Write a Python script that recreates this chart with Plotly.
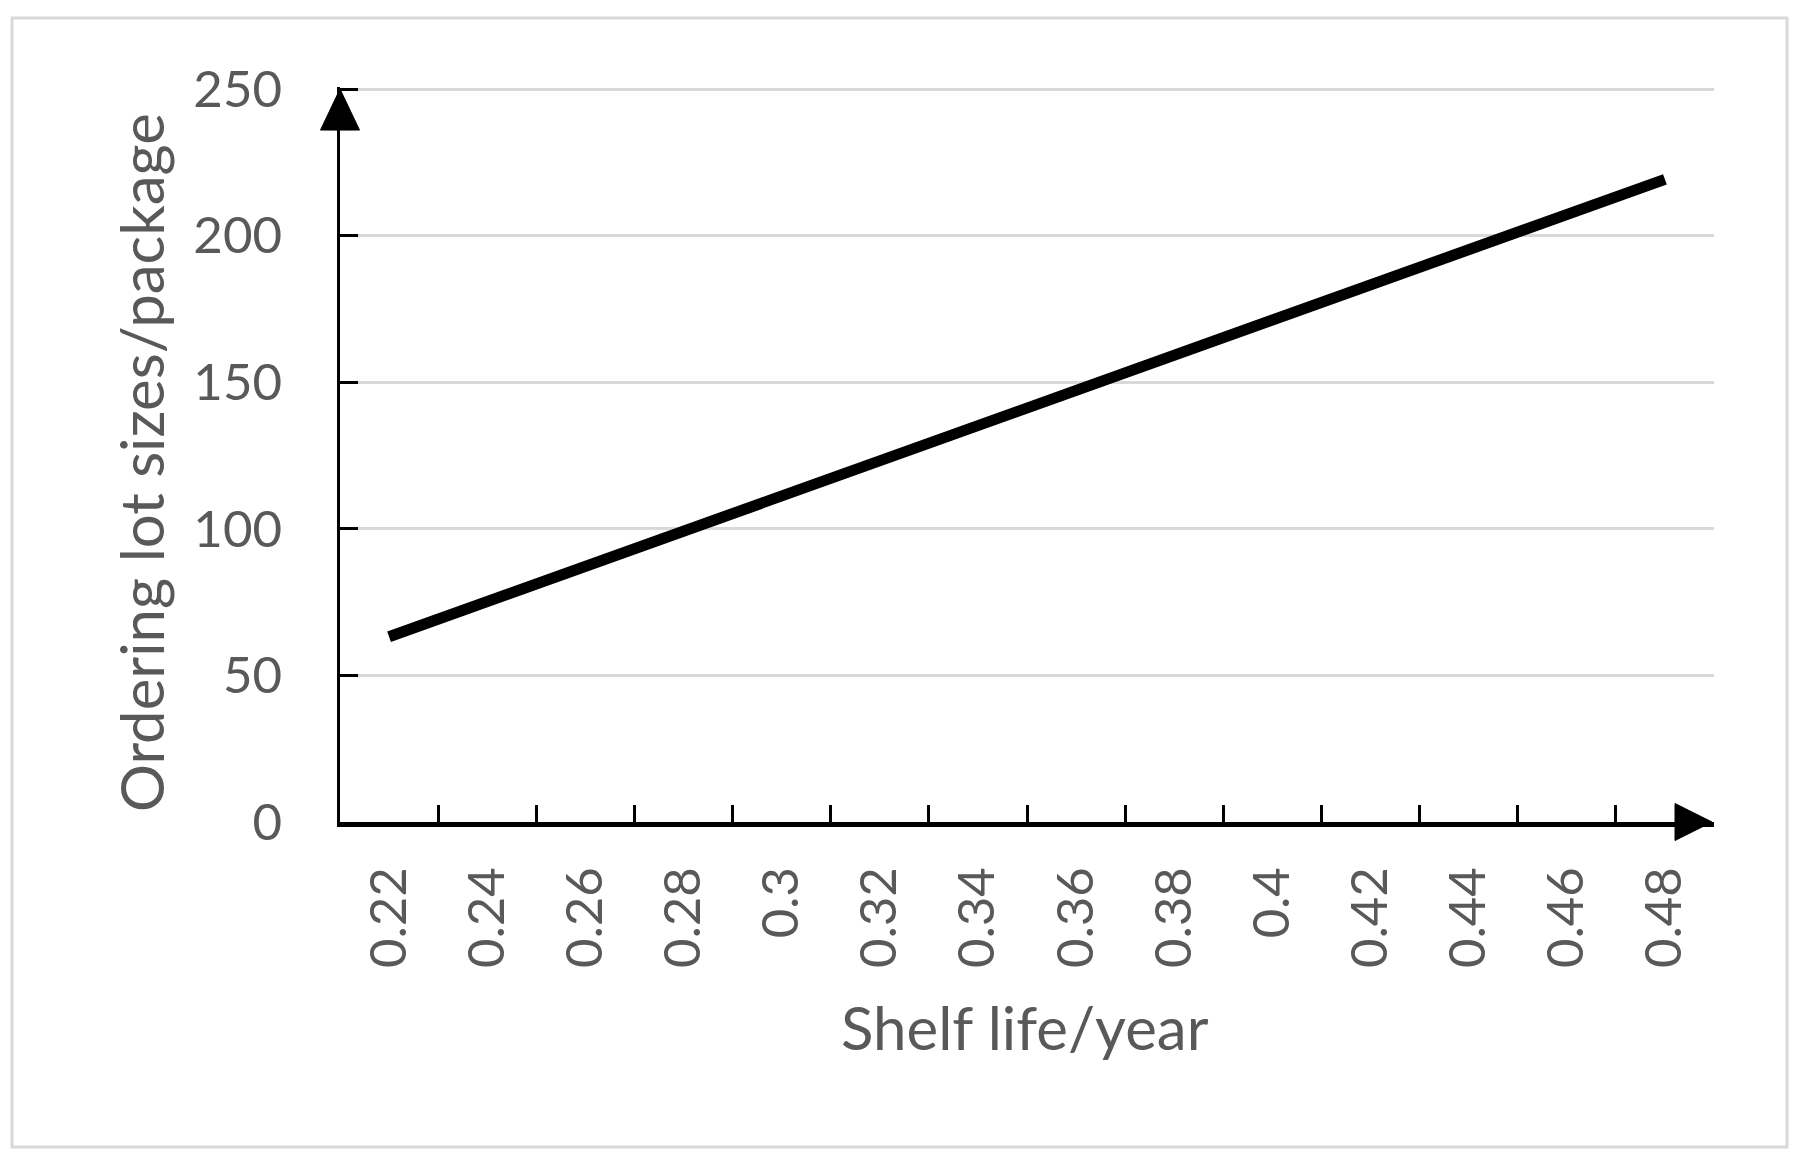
import plotly.graph_objects as go

shelf_life = ["0.22", "0.24", "0.26", "0.28", "0.3", "0.32", "0.34",
              "0.36", "0.38", "0.4", "0.42", "0.44", "0.46", "0.48"]
lot_size = [63.2, 75.2, 87.2, 99.1, 111.1, 123.0, 135.0,
            146.9, 158.8, 170.6, 182.7, 194.9, 207.0, 219.2]
y_ticks = [0, 50, 100, 150, 200, 250]
Y_MAX = 250.7

W, H = 1808, 1165
OFF = 8  # browser body margin
# plot area in page pixels (0 at 822, 250 at 89)
PL, PR, PB = 340, 1714, 822
PT = PB - (PB - 89) * Y_MAX / 250
L = PL - OFF
T = PT - OFF
R = W - (PR - OFF)
B = H - (PB - OFF)
pw, ph = PR - PL, PB - PT

def px(x):
    return (x - PL) / pw

def py(y):
    return (PB - y) / ph

FONT = "Lato"
GRAY = "#595959"

fig = go.Figure()
fig.add_trace(go.Scatter(
    x=shelf_life, y=lot_size, mode="lines",
    line=dict(color="black", width=11),
    showlegend=False, hoverinfo="x+y",
))

fig.update_layout(
    width=W, height=H,
    margin=dict(l=L, r=R, t=T, b=B, autoexpand=False),
    paper_bgcolor="white", plot_bgcolor="white",
    font=dict(family=FONT, color=GRAY, size=51),
    xaxis=dict(
        type="category", showgrid=False, zeroline=False,
        showline=True, linecolor="black", linewidth=4.5,
        ticks="inside", tickson="boundaries", ticklen=17, tickwidth=3,
        tickcolor="black", tickangle=-90,
        tickfont=dict(family=FONT, color=GRAY, size=51),
        ticklabelstandoff=20,
        range=[-0.5, 13.5],
    ),
    yaxis=dict(
        range=[0, Y_MAX], tickvals=y_ticks, showgrid=True,
        gridcolor="#d9d9d9", gridwidth=3, zeroline=False,
        showline=True, linecolor="black", linewidth=2.5,
        ticks="inside", ticklen=18, tickwidth=3, tickcolor="black",
        tickfont=dict(family=FONT, color=GRAY, size=51),
        ticklabelstandoff=45,
    ),
    shapes=[
        # outer frame
        dict(type="rect", xref="paper", yref="paper",
             x0=px(12), x1=px(1787), y0=py(1147), y1=py(18),
             line=dict(color="#d9d9d9", width=3), fillcolor="rgba(0,0,0,0)",
             layer="below"),
        # y-axis arrow head
        dict(type="path", xref="paper", yref="y",
             xsizemode="pixel", ysizemode="pixel", xanchor=0, yanchor=250,
             path="M -19.5,-41 L 19.5,-41 L 0,0 Z",
             fillcolor="black", line=dict(color="black", width=1)),
        # x-axis arrow head
        dict(type="path", xref="paper", yref="paper",
             xsizemode="pixel", ysizemode="pixel", xanchor=1, yanchor=0,
             path="M -39,18.5 L -39,-18.5 L -2,0 Z",
             fillcolor="black", line=dict(color="black", width=1)),
    ],
    annotations=[
        dict(text="Shelf life/year", xref="paper", yref="paper",
             x=px(1025), y=py(1027), xanchor="center", yanchor="middle",
             showarrow=False, font=dict(family=FONT, color=GRAY, size=60)),
        dict(text="Ordering lot sizes/package", xref="paper", yref="paper",
             x=px(141), y=py(463), xanchor="center", yanchor="middle",
             textangle=-90, showarrow=False,
             font=dict(family=FONT, color=GRAY, size=60)),
    ],
)

fig.write_html("out.html")
